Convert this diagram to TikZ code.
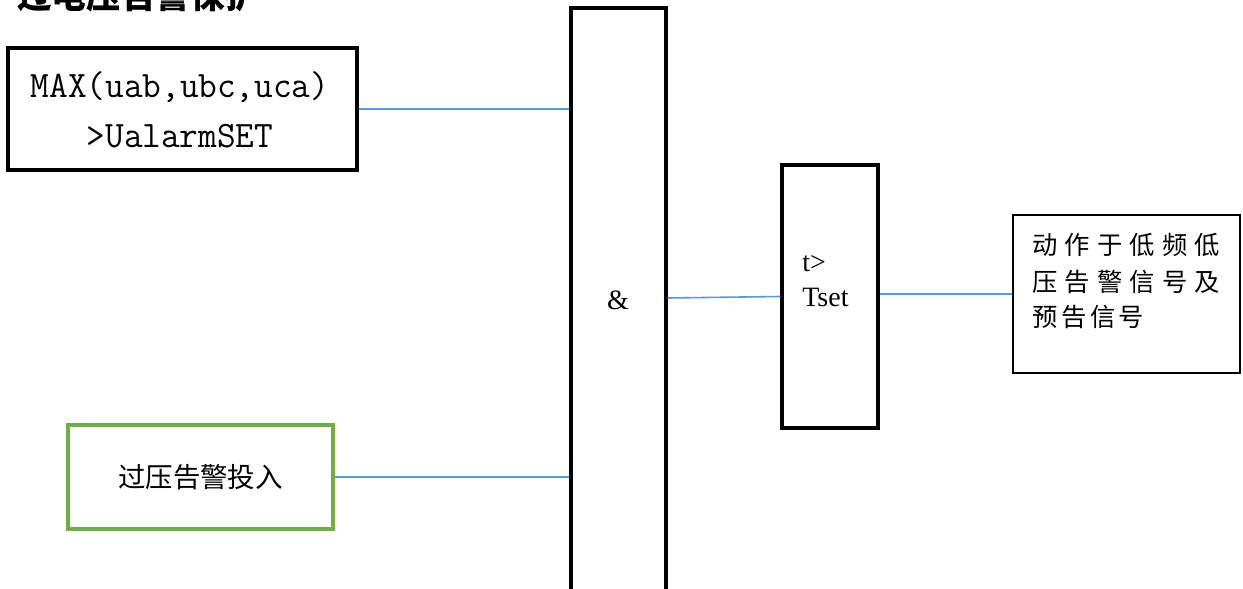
\documentclass[tikz,border=0pt]{standalone}
\usepackage{fontspec}
\setmainfont{Liberation Serif}
\newfontfamily\cjk{Noto Sans CJK SC}
\definecolor{wireblue}{HTML}{5B9BD5}
\definecolor{boxgreen}{HTML}{70AD47}
\begin{document}
\begin{tikzpicture}[x=0.75pt,y=-0.75pt,
  blockbox/.style={draw=black,line width=2.4pt,inner sep=0pt,fill=none},
  thinbox/.style={draw=black,line width=1.3pt,inner sep=0pt},
  greenbox/.style={draw=boxgreen,line width=2.3pt,inner sep=0pt},
  wire/.style={draw=wireblue,line width=1.2pt},
  txt/.style={inner sep=0pt}]
\useasboundingbox[fill=white] (0,0) rectangle (1243,589);
% title (cropped at the top, as in the reference)
\node[txt,anchor=base west,font=\cjk\bfseries\fontsize{26}{28}\selectfont] (title) at (17,8) {过电压告警保护};
% blocks
\node[blockbox,minimum width=349*0.75pt,minimum height=122*0.75pt] (cond) at (182.5,109) {};
\node[txt,font=\ttfamily\fontsize{28}{37.5}\selectfont,align=center] (condtxt) at (180,110)
  {\scalebox{0.97}[1]{MAX(uab,ubc,uca)}\\\scalebox{0.97}[1]{>UalarmSET}};
\node[blockbox,minimum width=95*0.75pt,minimum height=632*0.75pt] (andg) at (618.5,324) {};
\node[txt,font=\fontsize{21}{22}\selectfont] (andtxt) at (618,300) {\&};
\node[blockbox,minimum width=96*0.75pt,minimum height=263*0.75pt] (timer) at (830,296.5) {};
\node[txt,anchor=base west,font=\fontsize{21}{26}\selectfont,align=left] (timertxt) at (802,306) {t>\\Tset};
\node[thinbox,minimum width=227*0.75pt,minimum height=158*0.75pt] (out) at (1126.5,294) {};
\node[txt,anchor=west,font=\cjk\fontsize{19}{20}\selectfont] (out1) at (1032,245) {\makebox[141pt][s]{动\hfill 作\hfill 于\hfill 低\hfill 频\hfill 低}};
\node[txt,anchor=west,font=\cjk\fontsize{19}{20}\selectfont] (out2) at (1032,281.5) {\makebox[141pt][s]{压\hfill 告\hfill 警\hfill 信\hfill 号\hfill 及}};
\node[txt,anchor=west,font=\cjk\fontsize{19}{20}\selectfont] (out3) at (1032,316.5) {\makebox[84pt][s]{预\hfill 告\hfill 信\hfill 号}};
\node[greenbox,minimum width=265*0.75pt,minimum height=104*0.75pt] (enable) at (200.5,477) {};
\node[txt,font=\cjk\fontsize{20.6}{22}\selectfont] (enabletxt) at (200.5,477) {过压告警投入};
% connectors
\draw[wire] (cond.east) -- (cond.east -| andg.west);
\draw[wire] (enable.east) -- (enable.east -| andg.west);
\draw[wire] (andg.east |- 0,298) -- (timer.west);
\draw[wire] (timer.east |- out.west) -- (out.west);
\end{tikzpicture}
\end{document}
